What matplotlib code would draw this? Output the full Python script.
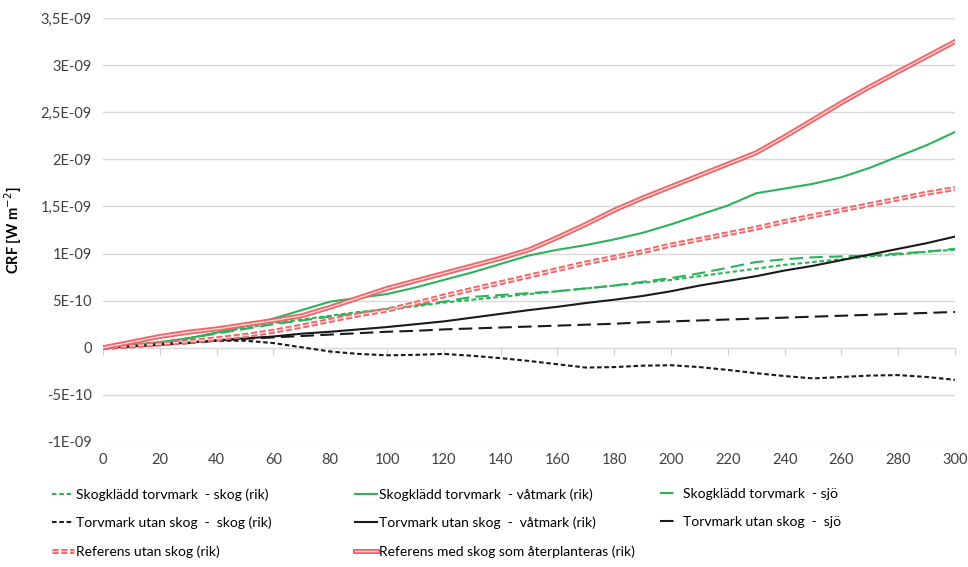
import numpy as np
import matplotlib.pyplot as plt
import matplotlib.patheffects as pe

plt.rcParams['font.family'] = ['Lato', 'DejaVu Sans']

# Datos (valores en unidades de 1E-10 W m-2)
anios = [0, 10, 20, 30, 40, 50, 60, 70, 80, 90, 100, 110, 120, 130, 140, 150,
         160, 170, 180, 190, 200, 210, 220, 230, 240, 250, 260, 270, 280, 290, 300]

skog_skog = [0, 0.25, 0.55, 1.0, 1.6, 2.1, 2.6, 3.0, 3.4, 3.8, 4.1, 4.4, 4.8, 5.1, 5.4, 5.7,
             6.0, 6.3, 6.6, 6.9, 7.2, 7.6, 8.0, 8.4, 8.8, 9.1, 9.4, 9.7, 9.9, 10.2, 10.4]
skog_vatmark = [0, 0.3, 0.6, 1.0, 1.6, 2.3, 3.1, 4.0, 4.9, 5.3, 5.7, 6.4, 7.2, 8.0, 8.9, 9.8,
                10.4, 10.9, 11.5, 12.2, 13.1, 14.1, 15.1, 16.4, 16.9, 17.4, 18.1, 19.1, 20.3, 21.5, 22.9]
skog_sjo = [0, 0.25, 0.55, 1.0, 1.5, 2.0, 2.5, 2.9, 3.3, 3.7, 4.1, 4.5, 4.9, 5.4, 5.6, 5.8,
            6.0, 6.3, 6.6, 7.0, 7.4, 7.9, 8.5, 9.1, 9.4, 9.6, 9.7, 9.8, 10.0, 10.2, 10.5]
utan_skog = [0, 0.2, 0.4, 0.6, 0.75, 0.75, 0.5, 0.05, -0.4, -0.65, -0.8, -0.75, -0.65, -0.85, -1.1, -1.4,
             -1.75, -2.1, -2.05, -1.9, -1.85, -2.05, -2.35, -2.7, -3.0, -3.25, -3.1, -2.95, -2.9, -3.1, -3.4]
utan_vatmark = [0, 0.15, 0.35, 0.55, 0.8, 1.0, 1.2, 1.5, 1.7, 1.95, 2.2, 2.5, 2.8, 3.2, 3.6, 4.0,
                4.35, 4.75, 5.1, 5.5, 6.0, 6.6, 7.1, 7.6, 8.2, 8.7, 9.3, 9.9, 10.5, 11.1, 11.8]
utan_sjo = [0, 0.15, 0.3, 0.5, 0.75, 0.95, 1.1, 1.25, 1.4, 1.55, 1.7, 1.8, 1.95, 2.05, 2.15, 2.25,
            2.35, 2.45, 2.55, 2.7, 2.8, 2.9, 3.0, 3.1, 3.2, 3.3, 3.4, 3.5, 3.6, 3.7, 3.8]
ref_utan = [0, 0.2, 0.4, 0.65, 0.95, 1.3, 1.75, 2.3, 2.9, 3.5, 4.0, 4.7, 5.5, 6.2, 6.9, 7.6,
            8.3, 9.0, 9.6, 10.2, 10.9, 11.5, 12.1, 12.7, 13.4, 14.0, 14.6, 15.2, 15.8, 16.4, 16.9]
ref_med = [0, 0.6, 1.2, 1.65, 2.0, 2.45, 2.9, 3.4, 4.3, 5.3, 6.3, 7.1, 7.9, 8.7, 9.5, 10.4,
           11.7, 13.1, 14.6, 15.9, 17.1, 18.3, 19.5, 20.7, 22.4, 24.2, 26.0, 27.7, 29.3, 30.9, 32.5]

y_ticks = [3.5e-9, 3e-9, 2.5e-9, 2e-9, 1.5e-9, 1e-9, 5e-10, 0, -5e-10, -1e-9]
y_labels = ['3,5E-09', '3E-09', '2,5E-09', '2E-09', '1,5E-09', '1E-09', '5E-10', '0', '-5E-10', '-1E-09']
x_ticks = list(range(0, 301, 20))

verde = '#2cb35a'
negro = '#1a1a1a'
rojo = '#f06468'
rojo_claro = '#fbd6d6'

x = np.array(anios)
esc = 1e-10

fig = plt.figure(figsize=(9.68, 5.67), dpi=100)
ax = fig.add_axes([103 / 968, 1 - 442 / 567, (955 - 103) / 968, (442 - 18) / 567])

h1, = ax.plot(x, np.array(skog_skog) * esc, color=verde, lw=1.5, dashes=(2.2, 1.3))
h2, = ax.plot(x, np.array(skog_vatmark) * esc, color=verde, lw=1.5)
h3, = ax.plot(x, np.array(skog_sjo) * esc, color=verde, lw=1.5, dashes=(6.5, 3))
h4, = ax.plot(x, np.array(utan_skog) * esc, color=negro, lw=1.5, dashes=(2.2, 1.3))
h5, = ax.plot(x, np.array(utan_vatmark) * esc, color=negro, lw=1.5)
h6, = ax.plot(x, np.array(utan_sjo) * esc, color=negro, lw=1.5, dashes=(6.5, 3))

borde = [pe.Stroke(linewidth=3.6, foreground=rojo), pe.Normal()]
h7, = ax.plot(x, np.array(ref_utan) * esc, color=rojo_claro, lw=1.0, dashes=(4.5, 1.8),
              path_effects=borde)
h8, = ax.plot(x, np.array(ref_med) * esc, color=rojo_claro, lw=1.0, path_effects=borde)

ax.set_xlim(0, 300)
ax.set_ylim(-1e-9, 3.5e-9)
ax.set_yticks(y_ticks)
ax.set_yticklabels(y_labels)
ax.set_xticks(x_ticks)
ax.tick_params(axis='y', length=0, labelsize=10.5, colors='#404040', pad=8)
ax.tick_params(axis='x', length=0, labelsize=10.5, colors='#404040', pad=8)
ax.grid(axis='y', color='#d9d9d9', lw=1)
ax.set_axisbelow(True)
for s in ax.spines.values():
    s.set_visible(False)

# eje con marcas en y = 0
eje0 = ax.secondary_xaxis(1 / 4.5)
eje0.set_xticks(x_ticks)
eje0.tick_params(axis='x', direction='out', length=5, color='#d0d0d0', labelbottom=False,
                 labeltop=False)
eje0.spines['bottom'].set_color('#d0d0d0')
eje0.xaxis.set_ticklabels([])

ax.set_ylabel('CRF [W m$^{-2}$]', fontsize=10.5, fontweight='bold', labelpad=12)

# leyenda en tres columnas
kw = dict(frameon=False, fontsize=10, handletextpad=0.15,
          labelspacing=1.15, loc='upper left', borderaxespad=0, borderpad=0)
fig.legend([h1, h4, h7], ['Skogklädd torvmark  - skog (rik)', 'Torvmark utan skog  -  skog (rik)',
                          'Referens utan skog (rik)'],
           bbox_to_anchor=(52 / 968, 1 - 488 / 567), handlelength=1.6, **kw)
fig.legend([h2, h5, h8], ['Skogklädd torvmark  - våtmark (rik)', 'Torvmark utan skog  -  våtmark (rik)',
                          'Referens med skog som återplanteras (rik)'],
           bbox_to_anchor=(355 / 968, 1 - 488 / 567), handlelength=1.6, **kw)
fig.legend([h3, h6], ['  Skogklädd torvmark  - sjö', '  Torvmark utan skog  -  sjö'],
           bbox_to_anchor=(660 / 968, 1 - 488 / 567), handlelength=1.0, **kw)

fig.savefig('out.png', dpi=100)
